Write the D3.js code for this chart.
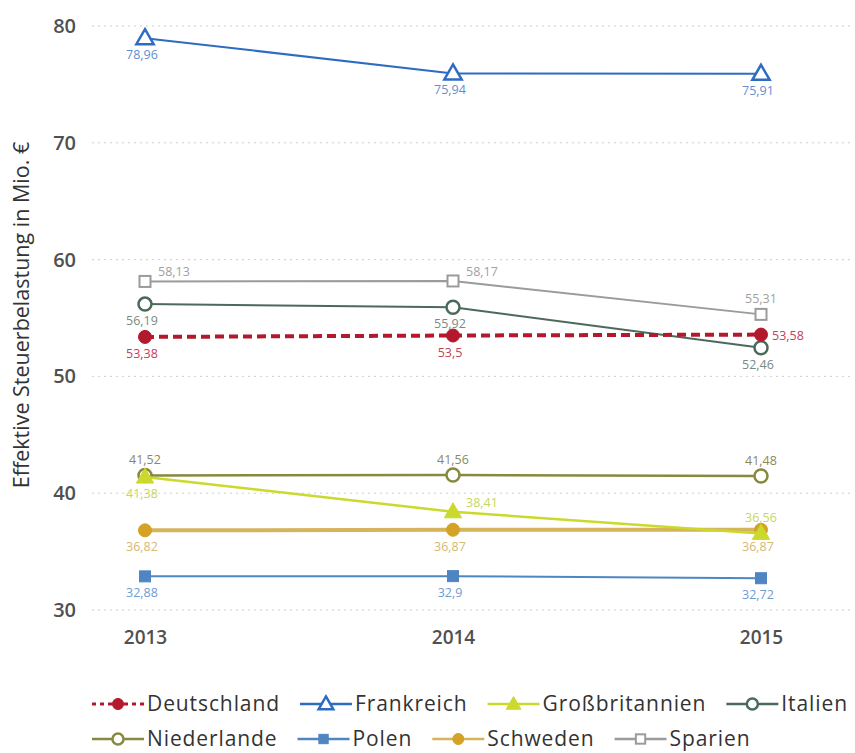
<!DOCTYPE html>
<html>
<head>
<meta charset="utf-8">
<script src="https://cdn.jsdelivr.net/npm/d3@7"></script>
<style>
  html, body { margin: 0; padding: 0; background: #fff; }
  svg { display: block; font-family: "Open Sans", "Noto Sans", sans-serif; }
</style>
</head>
<body>
<div id="chart"></div>
<script>
// ---------------- DATA ----------------
const years = ["2013", "2014", "2015"];
const yTicks = [30, 40, 50, 60, 70, 80];
const yTitle = "Effektive Steuerbelastung in Mio. €";

const seriesNames = ["Deutschland", "Frankreich", "Großbritannien", "Italien",
                     "Niederlande", "Polen", "Schweden", "Sparien"];
const deutschland    = [53.38, 53.5, 53.58];
const frankreich     = [78.96, 75.94, 75.91];
const grossbritannien= [41.38, 38.41, 36.56];
const italien        = [56.19, 55.92, 52.46];
const niederlande    = [41.52, 41.56, 41.48];
const polen          = [32.88, 32.9, 32.72];
const schweden       = [36.82, 36.87, 36.87];
const spanien        = [58.13, 58.17, 55.31];

// ---------------- STYLE ----------------
const styles = {
  "Deutschland":    {values: deutschland,     color: "#b3192c", label: "#c2405a", marker: "circle",   fill: true,  width: 4,   dash: "9,5", labelPos: ["below","below","right"]},
  "Frankreich":     {values: frankreich,      color: "#2e6cc2", label: "#5f8fd2", marker: "triangle", fill: false, width: 2,   dash: null,  labelPos: ["below","below","below"]},
  "Großbritannien": {values: grossbritannien, color: "#cbd92c", label: "#c9d65a", marker: "triangle", fill: true,  width: 2.5, dash: null,  labelPos: ["below","aboveRight","above"]},
  "Italien":        {values: italien,         color: "#4b6a5b", label: "#7a8a80", marker: "circle",   fill: false, width: 2,   dash: null,  labelPos: ["below","below","below"]},
  "Niederlande":    {values: niederlande,     color: "#878a3e", label: "#8a8a5c", marker: "circle",   fill: false, width: 2.5, dash: null,  labelPos: ["above","above","above"]},
  "Polen":          {values: polen,           color: "#4f86c2", label: "#6f9bd2", marker: "square",   fill: true,  width: 2,   dash: null,  labelPos: ["below","below","below"]},
  "Schweden":       {values: schweden,        color: "#d5b45c", label: "#d7b870", marker: "circle",   fill: true,  width: 4,   dash: null,  markerColor: "#d3a226", labelPos: ["below","below","below"]},
  "Sparien":        {values: spanien,         color: "#9b9b9b", label: "#a0a0a0", marker: "square",   fill: false, width: 2,   dash: null,  labelPos: ["aboveRight","aboveRight","above"]}
};
const drawOrder = ["Polen", "Schweden", "Niederlande", "Großbritannien", "Sparien", "Italien", "Deutschland", "Frankreich"];

// ---------------- CHART ----------------
const W = 855, H = 753;
const svg = d3.select("#chart").append("svg").attr("width", W).attr("height", H);

const x = d3.scalePoint().domain(years).range([145, 761]);
const y = d3.scaleLinear().domain([30, 80]).range([610, 26]);
const gridX0 = 92, gridX1 = 852;

// gridlines
svg.append("g").selectAll("line").data(yTicks).join("line")
  .attr("x1", gridX0).attr("x2", gridX1)
  .attr("y1", d => y(d)).attr("y2", d => y(d))
  .attr("stroke", "#cfcfcf").attr("stroke-width", 1)
  .attr("stroke-dasharray", "2,4");

// y axis labels
const yAxis = d3.axisLeft(y).tickValues(yTicks).tickSize(0).tickPadding(0).tickFormat(d3.format("d"));
const yg = svg.append("g").attr("transform", `translate(${gridX0 - 16},0)`).call(yAxis);
yg.select(".domain").remove();
yg.selectAll("text").attr("font-size", 20).attr("fill", "#505050").attr("font-family", "'Open Sans', sans-serif").attr("font-weight", 600);

// x axis labels
const xAxis = d3.axisBottom(x).tickSize(0).tickPadding(0);
const xg = svg.append("g").attr("transform", `translate(0,${y(30) + 20})`).call(xAxis);
xg.select(".domain").remove();
xg.selectAll("text").attr("font-size", 19).attr("fill", "#505050").attr("font-family", "'Open Sans', sans-serif").attr("font-weight", 600);

// y title
svg.append("text")
  .attr("transform", `translate(29,${(y(30) + y(80)) / 2 - 3}) rotate(-90)`)
  .attr("text-anchor", "middle")
  .attr("font-size", 21.5).attr("fill", "#333")
  .text(yTitle);

// markers
function drawMarker(g, type, cx, cy, color, fill, size) {
  const s = size || 1;
  if (type === "circle") {
    g.append("circle").attr("cx", cx).attr("cy", cy).attr("r", 6.5 * s)
      .attr("fill", fill ? color : "#fff").attr("stroke", color).attr("stroke-width", fill ? 1 : 2.5);
  } else if (type === "triangle") {
    const sym = d3.symbol().type(d3.symbolTriangle).size(130 * s * s);
    g.append("path").attr("d", sym()).attr("transform", `translate(${cx},${cy + 1})`)
      .attr("fill", fill ? color : "#fff").attr("stroke", color).attr("stroke-width", fill ? 1 : 2.5)
      .attr("stroke-linejoin", "miter");
  } else if (type === "square") {
    const a = 11 * s;
    g.append("rect").attr("x", cx - a / 2).attr("y", cy - a / 2).attr("width", a).attr("height", a)
      .attr("fill", fill ? color : "#fff").attr("stroke", color).attr("stroke-width", fill ? 1 : 2);
  }
}

const line = d3.line().x((d, i) => x(years[i])).y(d => y(d));

drawOrder.forEach(name => {
  const st = styles[name];
  const g = svg.append("g");
  g.append("path").datum(st.values).attr("d", line)
    .attr("fill", "none").attr("stroke", st.color).attr("stroke-width", st.width)
    .attr("stroke-dasharray", st.dash);
  st.values.forEach((v, i) => {
    drawMarker(g, st.marker, x(years[i]), y(v), st.markerColor || st.color, st.fill);
  });
});

// value labels
const fmt = v => String(v).replace(".", ",");
drawOrder.forEach(name => {
  const st = styles[name];
  st.values.forEach((v, i) => {
    const px = x(years[i]), py = y(v);
    const pos = st.labelPos[i];
    let tx = px, ty = py, anchor = "middle";
    if (pos === "below") { ty = py + 21; tx = px - 3; }
    else if (pos === "above") { ty = py - 11; }
    else if (pos === "right") { tx = px + 11; ty = py + 5; anchor = "start"; }
    else if (pos === "aboveRight") { tx = px + 13; ty = py - 5; anchor = "start"; }
    svg.append("text").attr("x", tx).attr("y", ty).attr("text-anchor", anchor)
      .attr("font-size", 12.5).attr("fill", st.label).text(fmt(v));
  });
});

// legend
const legend = svg.append("g");
const perRow = 4, rowY = [704, 739], lx0 = 92, symW = 52, gap = 20;
for (let r = 0; r < 2; r++) {
  let cx = lx0;
  seriesNames.slice(r * perRow, r * perRow + perRow).forEach(name => {
    const st = styles[name];
    const g = legend.append("g");
    const ly = rowY[r];
    g.append("line").attr("x1", cx).attr("x2", cx + symW).attr("y1", ly).attr("y2", ly)
      .attr("stroke", st.color).attr("stroke-width", st.dash ? 3 : 2.5)
      .attr("stroke-dasharray", st.dash ? "4,4" : null);
    drawMarker(g, st.marker, cx + symW / 2, ly, st.markerColor || st.color, st.fill, 0.85);
    const t = g.append("text").attr("x", cx + symW + 3).attr("y", ly + 7)
      .attr("font-size", 21).attr("letter-spacing", 0.9).attr("fill", "#333").text(name);
    const w = t.node().getComputedTextLength();
    cx += symW + 3 + w + gap;
  });
}
</script>
</body>
</html>
